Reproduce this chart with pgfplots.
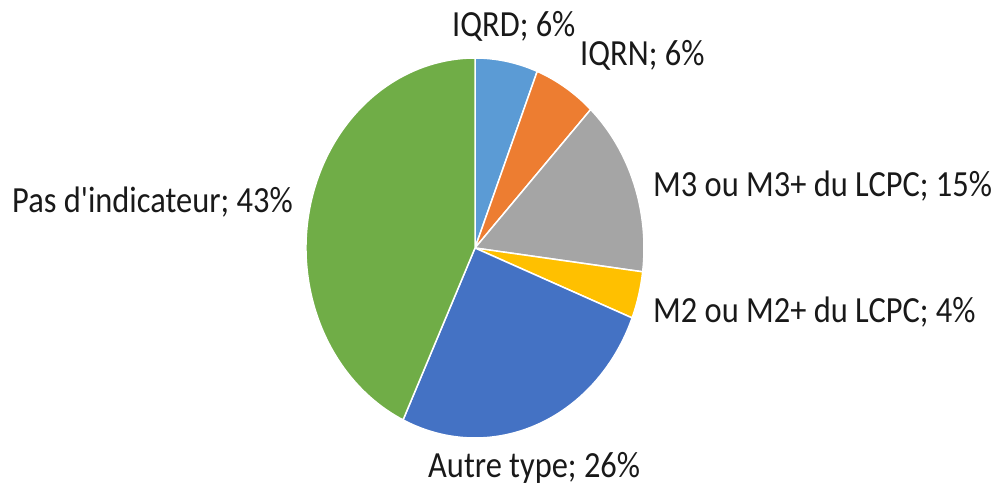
\documentclass[border=0pt]{standalone}
\usepackage{pgfplots}
\pgfplotsset{compat=1.18}
\usepackage{pgfplotstable}
\usepackage{graphicx}
\usepackage{fontspec}
\setmainfont{Carlito}[Ligatures=TeXOff]
\definecolor{cA}{HTML}{5B9BD5}
\definecolor{cB}{HTML}{ED7D31}
\definecolor{cC}{HTML}{A5A5A5}
\definecolor{cD}{HTML}{FFC000}
\definecolor{cE}{HTML}{4472C4}
\definecolor{cF}{HTML}{70AD47}
\pgfplotstableread{
value col
6 cA
6 cB
15 cC
4 cD
26 cE
43 cF
}\pietable
\newcommand\lbl[1]{\scalebox{0.88}[1]{#1}}
\begin{document}
\begin{tikzpicture}
\begin{axis}[width=1005bp,height=486bp,scale only axis,
  xmin=0,xmax=1005,ymin=0,ymax=486,hide axis,clip=false]
\path (axis cs:0,0) rectangle (axis cs:1005,486);
\pgfplotstablegetrowsof{\pietable}
\pgfmathtruncatemacro\pierows{\pgfplotsretval-1}
\def\piecum{0}
\pgfplotsforeachungrouped \i in {0,...,\pierows}{
  \pgfplotstablegetelem{\i}{value}\of\pietable \let\pieval\pgfplotsretval
  \pgfplotstablegetelem{\i}{col}\of\pietable \let\piecol\pgfplotsretval
  \pgfmathsetmacro\pieA{90-3.6*\piecum}
  \pgfmathsetmacro\pieB{90-3.6*(\piecum+\pieval)}
  \pgfmathsetmacro\piecum{\piecum+\pieval}
  \edef\piecmd{\noexpand\fill[\piecol, draw=white, line width=1.5bp] (axis cs:475,238) -- (axis cs:{475+169*cos(\pieA)},{238+190*sin(\pieA)}) arc[start angle=\pieA, end angle=\pieB, x radius=169bp, y radius=190bp] -- cycle;}
  \piecmd
}
\tikzset{lb/.style={anchor=base west, inner sep=0pt, font=\fontsize{37}{44}\selectfont, text=black!90}}
\node[lb] at (axis cs:452,449) {\lbl{IQRD; 6\%}};
\node[lb] at (axis cs:580,420) {\lbl{IQRN; 6\%}};
\node[lb] at (axis cs:12,273) {\lbl{Pas d'indicateur; 43\%}};
\node[lb] at (axis cs:653,289) {\lbl{M3 ou M3+ du LCPC; 15\%}};
\node[lb] at (axis cs:653,164) {\lbl{M2 ou M2+ du LCPC; 4\%}};
\node[lb] at (axis cs:428,9) {\lbl{Autre type; 26\%}};
\end{axis}
\end{tikzpicture}
\end{document}
